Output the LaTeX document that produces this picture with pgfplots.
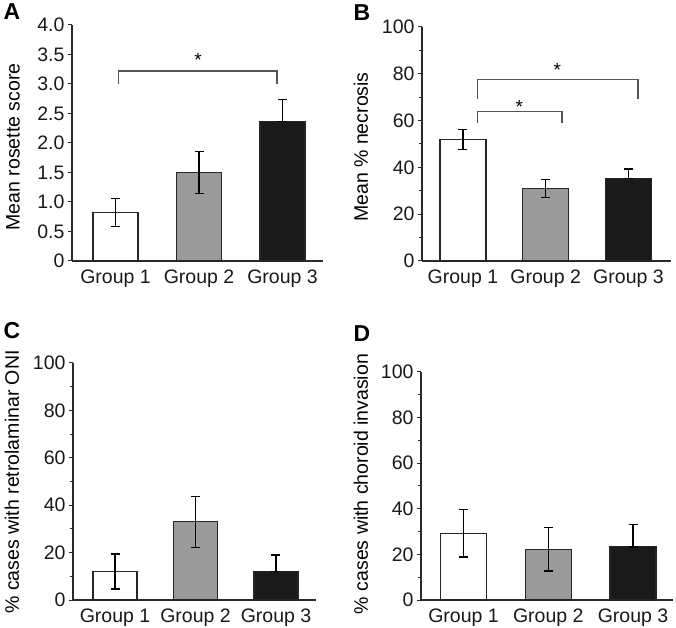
\documentclass[border=0pt]{standalone}
\usepackage{pgfplots}
\pgfplotsset{compat=1.18}
\usepackage{fontspec}
\setmainfont{Liberation Sans}
\definecolor{barGray}{HTML}{9A9A9A}
\definecolor{barBlack}{HTML}{1A1A1A}
\definecolor{axisCol}{HTML}{2A2A2A}
\definecolor{brCol}{HTML}{555555}
\pgfplotsset{
  panel/.style={
    scale only axis,
    anchor=south west,
    axis x line*=bottom,
    axis y line*=left,
    axis line style={axisCol, line width=1.3bp},
    /pgf/number format/assume math mode=true,
    tick label style={font=\fontsize{19.5bp}{23bp}\selectfont, text=black!90},
    xticklabel style={yshift=-1.5bp},
    xtick={1,2,3},
    xticklabels={Group 1,Group 2,Group 3},
    xtick style={draw=none},
    ytick style={axisCol, line width=1bp},
    tick align=outside,
    major tick length=4bp,
    minor tick length=3bp,
    ybar, bar shift=0pt,
    ymin=0,
    clip=false,
    error bars/y dir=both,
    error bars/y explicit,
    error bars/error bar style={line width=1.3bp, black},
    error bars/error mark options={rotate=90, mark size=4.5bp, line width=1.3bp, black},
  },
  wbar/.style={fill=white, draw=black!85, line width=1.2bp},
  gbar/.style={fill=barGray, draw=black!85, line width=1.2bp},
  kbar/.style={fill=barBlack, draw=black!85, line width=1.2bp},
}
\newcommand{\ylab}[1]{\fontsize{19.5bp}{23bp}\selectfont #1}
\newcommand{\plab}[1]{\fontsize{23bp}{26bp}\selectfont\bfseries #1}
\begin{document}
\begin{tikzpicture}
\path[use as bounding box] (0,0) rectangle (676bp,628bp);
% Panel A
\begin{axis}[panel, at={(72bp,367bp)}, width=251bp, height=236bp,
  xmin=0.479, xmax=3.485, ymax=4, bar width=45bp,
  ytick={0,0.5,1,1.5,2,2.5,3,3.5,4},
  yticklabels={0,0.5,1.0,1.5,2.0,2.5,3.0,3.5,4.0}]
\addplot[wbar] coordinates {(1,0.82) +- (0,0.235)};
\addplot[gbar] coordinates {(2,1.50) +- (0,0.36)};
\addplot[kbar] coordinates {(3,2.37) += (0,0.37) -= (0,0)};
\draw[brCol, line width=1.2bp] (axis cs:1.04,3.0) -- (axis cs:1.04,3.22) -- (axis cs:2.934,3.22) -- (axis cs:2.934,3.0);
\node[font=\fontsize{19bp}{20bp}\selectfont] at (axis cs:1.99,3.40) {*};
\end{axis}
\node[rotate=90] at (13bp,481bp) {\ylab{Mean rosette score}};
\node at (12bp,616bp) {\plab{A}};
% Panel B
\begin{axis}[panel, at={(422bp,367bp)}, width=249bp, height=234bp,
  xmin=0.505, xmax=3.514, ymax=100, bar width=46bp,
  ytick={0,20,40,60,80,100}, minor ytick={10,30,50,70,90}]
\addplot[wbar] coordinates {(1,51.8) +- (0,4.3)};
\addplot[gbar] coordinates {(2,31.0) +- (0,3.8)};
\addplot[kbar] coordinates {(3,35.2) += (0,4.1) -= (0,0)};
\draw[brCol, line width=1.2bp] (axis cs:1.18,58.8) -- (axis cs:1.18,64) -- (axis cs:2.196,64) -- (axis cs:2.196,58.8);
\node[font=\fontsize{19bp}{20bp}\selectfont] at (axis cs:1.68,65.8) {*};
\draw[brCol, line width=1.2bp] (axis cs:1.18,69.4) -- (axis cs:1.18,77.4) -- (axis cs:3.115,77.4) -- (axis cs:3.115,69.4);
\node[font=\fontsize{19bp}{20bp}\selectfont] at (axis cs:2.14,81.5) {*};
\end{axis}
\node[rotate=90] at (361bp,481bp) {\ylab{Mean \% necrosis}};
\node at (362bp,615bp) {\plab{B}};
% Panel C
\begin{axis}[panel, at={(73bp,28bp)}, width=243bp, height=237bp,
  xmin=0.478, xmax=3.497, ymax=100, bar width=44bp,
  ytick={0,20,40,60,80,100}, minor ytick={10,30,50,70,90}]
\addplot[wbar] coordinates {(1,12) +- (0,7.4)};
\addplot[gbar] coordinates {(2,33) +- (0,10.8)};
\addplot[kbar] coordinates {(3,12) += (0,7.0) -= (0,0)};
\end{axis}
\node[rotate=90] at (12bp,146bp) {\ylab{\% cases with retrolaminar ONI}};
\node at (12bp,297bp) {\plab{C}};
% Panel D
\begin{axis}[panel, at={(421bp,28bp)}, width=252bp, height=228bp,
  xmin=0.498, xmax=3.472, ymax=100, bar width=46bp,
  ytick={0,20,40,60,80,100}, minor ytick={10,30,50,70,90}]
\addplot[wbar] coordinates {(1,29.3) +- (0,10.5)};
\addplot[gbar] coordinates {(2,22.3) +- (0,9.6)};
\addplot[kbar] coordinates {(3,23.3) += (0,9.8) -= (0,0)};
\end{axis}
\node[rotate=90] at (361bp,144bp) {\ylab{\% cases with choroid invasion}};
\node at (362bp,294bp) {\plab{D}};
\end{tikzpicture}
\end{document}
